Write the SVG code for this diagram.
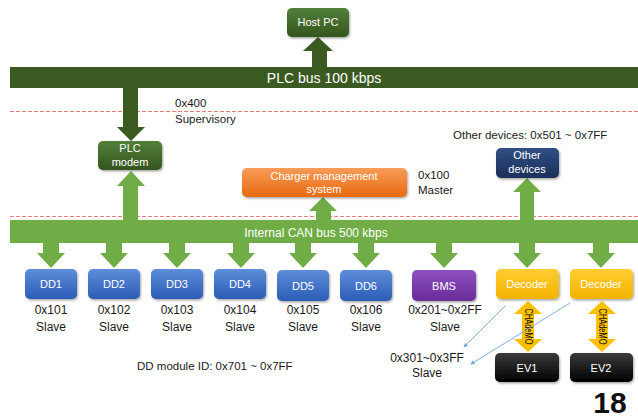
<svg xmlns="http://www.w3.org/2000/svg" width="638" height="420" viewBox="0 0 638 420">
<style>
text{font-family:"Liberation Sans",Arial,sans-serif}
.w{fill:#fff;font-size:11px;text-anchor:middle}
.k{fill:#1a1a1a;font-size:12px;text-anchor:middle}
.kl{fill:#1a1a1a;font-size:11.5px}
.dash{stroke:#E67C7C;stroke-width:1;stroke-dasharray:4 2;fill:none}
.ca{fill:#70AD47}
.pa{fill:#3B5A22}
.ya{fill:#FFC000}
.ch{font-size:10px;text-anchor:middle;fill:#111}
.bl{stroke:#6FA8DC;stroke-width:0.9;fill:none;marker-end:url(#ah)}
</style>
<defs>
<linearGradient id="gDark" x1="0" y1="0" x2="0" y2="1"><stop offset="0" stop-color="#52803A"/><stop offset="1" stop-color="#35541F"/></linearGradient>
<linearGradient id="gBlue" x1="0" y1="0" x2="0" y2="1"><stop offset="0" stop-color="#5E8DDA"/><stop offset="1" stop-color="#2C5CB6"/></linearGradient>
<linearGradient id="gPurple" x1="0" y1="0" x2="0" y2="1"><stop offset="0" stop-color="#8E50C2"/><stop offset="1" stop-color="#682C98"/></linearGradient>
<linearGradient id="gYellow" x1="0" y1="0" x2="0" y2="1"><stop offset="0" stop-color="#FFCD33"/><stop offset="1" stop-color="#F3B300"/></linearGradient>
<linearGradient id="gOrange" x1="0" y1="0" x2="0" y2="1"><stop offset="0" stop-color="#F89C58"/><stop offset="1" stop-color="#E8690F"/></linearGradient>
<linearGradient id="gNavy" x1="0" y1="0" x2="0" y2="1"><stop offset="0" stop-color="#304E84"/><stop offset="1" stop-color="#1B2F5A"/></linearGradient>
<linearGradient id="gBlack" x1="0" y1="0" x2="0" y2="1"><stop offset="0" stop-color="#3C3C3C"/><stop offset="1" stop-color="#000"/></linearGradient>
<filter id="sh" x="-10%" y="-10%" width="130%" height="140%"><feDropShadow dx="1" dy="1.5" stdDeviation="1.2" flood-color="#000" flood-opacity="0.35"/></filter>
<marker id="ah" viewBox="0 0 6 6" refX="5" refY="3" markerWidth="5" markerHeight="5" orient="auto"><path d="M0,0 L6,3 L0,6 z" fill="#6FA8DC"/></marker>
</defs>
<rect width="638" height="420" fill="#fff"/>

<line class="dash" x1="10" y1="111.5" x2="638" y2="111.5"/>
<line class="dash" x1="10" y1="216.5" x2="638" y2="216.5"/>

<g id="connectors">
<polygon class="pa" points="312,67 327,67 327,51 333,51 318,37 303,51 312,51"/>
<polygon class="pa" points="123,88 138,88 138,127 145,127 131,141 117,127 123,127"/>
<polygon class="ca" points="123,220 138,220 138,186 145,186 131,171 117,186 123,186"/>
<polygon class="ca" points="316,220 331,220 331,211 337,211 323,197 309,211 316,211"/>
<polygon class="ca" points="520,220 534,220 534,192 541,192 527,178 513,192 520,192"/>
<polygon class="ca" points="43,243 59,243 59,253 65,253 51,268 37,253 43,253"/>
<polygon class="ca" points="106,243 122,243 122,253 128,253 114,268 100,253 106,253"/>
<polygon class="ca" points="169,243 185,243 185,253 191,253 177,268 163,253 169,253"/>
<polygon class="ca" points="233,243 249,243 249,253 255,253 241,268 227,253 233,253"/>
<polygon class="ca" points="295,243 311,243 311,253 317,253 303,268 289,253 295,253"/>
<polygon class="ca" points="358,243 374,243 374,253 380,253 366,268 352,253 358,253"/>
<polygon class="ca" points="436,243 452,243 452,253 458,253 444,268 430,253 436,253"/>
<polygon class="ca" points="519,243 535,243 535,253 541,253 527,268 513,253 519,253"/>
<polygon class="ca" points="593,243 609,243 609,253 615,253 601,268 587,253 593,253"/>
<polygon class="ya" points="528,301 542,314 534,314 534,339 542,339 528,352 514,339 522,339 522,314 514,314"/>
<polygon class="ya" points="602,301 616,314 608,314 608,339 616,339 602,352 588,339 596,339 596,314 588,314"/>
<text class="ch" transform="translate(524.5,326.5) rotate(90)" textLength="36" lengthAdjust="spacingAndGlyphs">CHAdeMO</text>
<text class="ch" transform="translate(598.5,326.5) rotate(90)" textLength="36" lengthAdjust="spacingAndGlyphs">CHAdeMO</text>
<line class="bl" x1="505" y1="306" x2="464" y2="347"/>
<line class="bl" x1="570" y1="303" x2="471" y2="364"/>
</g>

<g id="plc-bus">
<rect x="10" y="67" width="628" height="21" fill="#3B5A22"/>
<text x="324" y="83" fill="#fff" font-size="14" text-anchor="middle">PLC bus 100 kbps</text>
</g>
<g id="can-bus">
<rect x="10" y="220" width="628" height="23" fill="#70AD47"/>
<text x="316" y="237" fill="#fff" font-size="12" text-anchor="middle">Internal CAN bus 500 kbps</text>
</g>

<g id="host-pc"><rect x="287" y="8" width="62" height="29" rx="5" fill="url(#gDark)" filter="url(#sh)"/><text class="w" x="318" y="26">Host PC</text></g>
<g id="plc-modem"><rect x="98" y="141" width="64" height="29" rx="5" fill="url(#gDark)" filter="url(#sh)"/><text class="w" x="130" y="152">PLC</text><text class="w" x="130" y="166">modem</text></g>
<g id="lbl-400"><text class="kl" x="175" y="107">0x400</text><text class="kl" x="175" y="123">Supervisory</text></g>
<g id="charger"><rect x="242" y="168" width="165" height="29" rx="5" fill="url(#gOrange)" filter="url(#sh)"/><text class="w" x="324" y="180">Charger management</text><text class="w" x="324" y="193">system</text></g>
<g id="lbl-100"><text class="kl" x="418" y="179">0x100</text><text class="kl" x="418" y="194">Master</text></g>
<g id="other-devices"><text class="kl" x="453" y="139">Other devices: 0x501 ~ 0x7FF</text><rect x="496" y="148" width="63" height="30" rx="5" fill="url(#gNavy)" filter="url(#sh)"/><text class="w" x="527" y="159">Other</text><text class="w" x="527" y="173">devices</text></g>

<g id="dd1"><rect x="25" y="269" width="52" height="30" rx="5" fill="url(#gBlue)" filter="url(#sh)"/><text class="w" x="51" y="288">DD1</text><text class="k" x="51" y="314">0x101</text><text class="k" x="51" y="331">Slave</text></g>
<g id="dd2"><rect x="88" y="269" width="52" height="30" rx="5" fill="url(#gBlue)" filter="url(#sh)"/><text class="w" x="114" y="288">DD2</text><text class="k" x="114" y="314">0x102</text><text class="k" x="114" y="331">Slave</text></g>
<g id="dd3"><rect x="151" y="269" width="52" height="30" rx="5" fill="url(#gBlue)" filter="url(#sh)"/><text class="w" x="177" y="288">DD3</text><text class="k" x="177" y="314">0x103</text><text class="k" x="177" y="331">Slave</text></g>
<g id="dd4"><rect x="214" y="269" width="52" height="30" rx="5" fill="url(#gBlue)" filter="url(#sh)"/><text class="w" x="240" y="288">DD4</text><text class="k" x="240" y="314">0x104</text><text class="k" x="240" y="331">Slave</text></g>
<g id="dd5"><rect x="277" y="270" width="52" height="31" rx="5" fill="url(#gBlue)" filter="url(#sh)"/><text class="w" x="303" y="290">DD5</text><text class="k" x="303" y="314">0x105</text><text class="k" x="303" y="331">Slave</text></g>
<g id="dd6"><rect x="340" y="270" width="52" height="31" rx="5" fill="url(#gBlue)" filter="url(#sh)"/><text class="w" x="366" y="290">DD6</text><text class="k" x="366" y="314">0x106</text><text class="k" x="366" y="331">Slave</text></g>
<g id="bms"><rect x="412" y="270" width="64" height="31" rx="5" fill="url(#gPurple)" filter="url(#sh)"/><text class="w" x="444" y="290">BMS</text><text class="k" x="445" y="314">0x201~0x2FF</text><text class="k" x="445" y="331">Slave</text></g>
<g id="decoder1"><rect x="496" y="269" width="63" height="30" rx="5" fill="url(#gYellow)" filter="url(#sh)"/><text class="w" x="527" y="288">Decoder</text></g>
<g id="decoder2"><rect x="570" y="269" width="63" height="30" rx="5" fill="url(#gYellow)" filter="url(#sh)"/><text class="w" x="601" y="288">Decoder</text></g>
<g id="ev1"><rect x="495" y="353" width="64" height="29" rx="5" fill="url(#gBlack)" filter="url(#sh)"/><text class="w" x="527" y="372">EV1</text></g>
<g id="ev2"><rect x="570" y="353" width="63" height="29" rx="5" fill="url(#gBlack)" filter="url(#sh)"/><text class="w" x="601" y="372">EV2</text></g>
<g id="lbl-301"><text class="k" x="427" y="362">0x301~0x3FF</text><text class="k" x="427" y="377">Slave</text></g>
<g id="lbl-dd"><text class="kl" x="137" y="370">DD module ID: 0x701 ~ 0x7FF</text></g>
<text x="610" y="413" font-size="30" font-weight="bold" text-anchor="middle" fill="#111">18</text>
</svg>
